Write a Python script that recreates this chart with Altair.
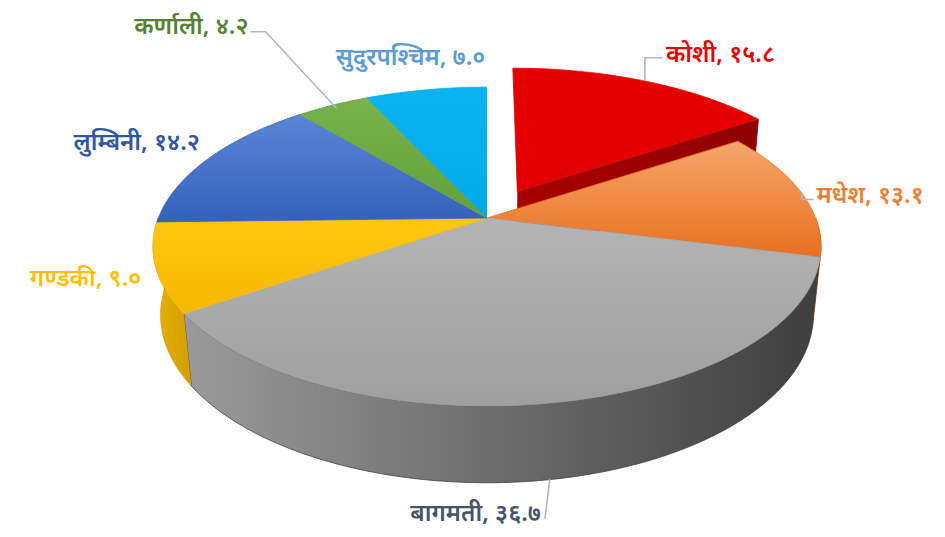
import numpy as np
import pandas as pd
import altair as alt

# ---- data ----
names = ["कोशी", "मधेश", "बागमती", "गण्डकी", "लुम्बिनी", "कर्णाली", "सुदुरपश्चिम"]
values = [15.8, 13.1, 36.7, 9.0, 14.2, 4.2, 7.0]

# ---- styles ----
top_light = ["#e60000", "#f4a66e", "#b4b4b4", "#ffc713", "#5b86d4", "#78b24e", "#0bb4f0"]
top_dark = ["#e10000", "#e8701e", "#9f9f9f", "#f6b800", "#3560bc", "#62a03c", "#00a9ea"]
wall_light = ["#a80000", "#c45c18", "#9a9a9a", "#e7b000", "#2f5597", "#4e7f30", "#0088bb"]
wall_dark = ["#8f0000", "#b24f10", "#3e3e3e", "#d29f00", "#2a4d8a", "#446f2a", "#0077a6"]
label_colors = ["#e60000", "#ed7d31", "#44546a", "#ffc000", "#2f55a4", "#548235", "#5b9bd5"]
explode = [0.2, 0, 0, 0, 0, 0, 0]
label_r = [1.36, 1.04, 1.0, 1.05, 1.04, 1.65, 1.31]
label_h = [0.045, -0.015, -0.35, -0.03, 0.05, 0.08, 0.0]
label_align = ["left", "left", "right", "right", "right", "right", "center"]
label_dx = [3, 3, -12, 2, 4, -2, 0]
leader_kind = ["v", "v", "s", None, None, "h", None]

F, DIST, ELEV = 1620.0, 4.93, np.radians(28)
CX, CY, H = 487.0, 218.0, 0.238
S, C = np.sin(ELEV), np.cos(ELEV)
DEV = str.maketrans("0123456789", "०१२३४५६७८९")


def proj(X, Y, Z):
    d = DIST + Z * C - Y * S
    return CX + F * X / d, CY - F * (Z * S + Y * C) / d


total = sum(values)
bounds = np.concatenate([[0], np.cumsum(values)]) / total * 2 * np.pi

XS = alt.Scale(domain=[8, 937], nice=False, zero=False)
YS = alt.Scale(domain=[8, 529], nice=False, zero=False, reverse=True)


def grad(a, b, x1=0, y1=0, x2=0, y2=1):
    return alt.LinearGradient(
        gradient="linear",
        stops=[alt.GradientStop(color=a, offset=0), alt.GradientStop(color=b, offset=1)],
        x1=x1, y1=y1, x2=x2, y2=y2)


def poly(xs, ys, fill, stroke):
    df = pd.DataFrame({"x": xs, "y": ys, "i": np.arange(len(xs))})
    return alt.Chart(df).mark_line(fill=fill, stroke=stroke, strokeWidth=0.8).encode(
        x=alt.X("x:Q", scale=XS, axis=None),
        y=alt.Y("y:Q", scale=YS, axis=None),
        order="i:Q")


walls, faces, tops = [], [], []
for k in range(len(values)):
    a1, a2 = bounds[k], bounds[k + 1]
    m = (a1 + a2) / 2
    ox, oz = explode[k] * np.sin(m), explode[k] * np.cos(m)
    # top surface
    th = np.linspace(a1, a2, max(3, int(np.degrees(a2 - a1) * 2)))
    px, py = proj(np.r_[ox, ox + np.sin(th)], 0, np.r_[oz, oz + np.cos(th)])
    tops.append(poly(px, py, grad(top_light[k], top_dark[k]), top_dark[k]))
    # front wall
    c1, c2 = max(a1, np.pi / 2), min(a2, 3 * np.pi / 2)
    if c2 > c1:
        th = np.linspace(c1, c2, max(3, int(np.degrees(c2 - c1) * 2)))
        tx, ty = proj(ox + np.sin(th), 0, oz + np.cos(th))
        bx, by = proj(ox + np.sin(th[::-1]), -H, oz + np.cos(th[::-1]))
        walls.append(poly(np.r_[tx, bx], np.r_[ty, by],
                          grad(wall_light[k], wall_dark[k], 0, 0, 1, 0), wall_dark[k]))
    # radial face of exploded slice
    if explode[k] > 0 and 0 < a2 < np.pi:
        X = np.array([ox, ox + np.sin(a2), ox + np.sin(a2), ox])
        Y = np.array([0, 0, -H, -H])
        Z = np.array([oz, oz + np.cos(a2), oz + np.cos(a2), oz])
        fx, fy = proj(X, Y, Z)
        faces.append(poly(fx, fy, grad(wall_light[k], wall_dark[k], 0, 0, 1, 0), wall_dark[k]))

# labels and leaders
lab_rows, lead_rows = [], []
for k in range(len(values)):
    m = (bounds[k] + bounds[k + 1]) / 2
    lx, ly = proj(label_r[k] * np.sin(m), label_h[k], label_r[k] * np.cos(m))
    lab_rows.append({"x": lx, "y": ly,
                     "text": f"{names[k]}, " + f"{values[k]:.1f}".translate(DEV),
                     "color": label_colors[k]})
    kind = leader_kind[k]
    if kind is None:
        continue
    R = 1 + explode[k]
    if kind == "s":
        rx, ry = proj(np.sin(m), -H, np.cos(m))
        pts = [(lx - 8, ly + 5), (rx - 4, ry)]
    elif kind == "v":
        rx, ry = proj(R * np.sin(m), 0, R * np.cos(m))
        pts = [(lx, ly + 3), (rx, ly + 3), (rx, ry)]
    else:
        rx, ry = proj(0.97 * np.sin(m), 0, 0.97 * np.cos(m))
        pts = [(lx, ly + 5), (lx + 15, ly + 5), (rx, ry)]
    for i, (x, y) in enumerate(pts):
        lead_rows.append({"lid": k, "i": i, "x": x, "y": y})

lab = pd.DataFrame(lab_rows)
lead = pd.DataFrame(lead_rows)

leaders = alt.Chart(lead).mark_line(stroke="#a9b7ca", strokeWidth=1.6).encode(
    x=alt.X("x:Q", scale=XS, axis=None),
    y=alt.Y("y:Q", scale=YS, axis=None),
    detail="lid:N", order="i:Q")

texts = []
for k in range(len(values)):
    texts.append(alt.Chart(lab.iloc[[k]]).mark_text(
        align=label_align[k], baseline="middle", dx=label_dx[k], fontSize=24, fontWeight=600,
        font="Noto Sans").encode(
        x=alt.X("x:Q", scale=XS, axis=None),
        y=alt.Y("y:Q", scale=YS, axis=None),
        text="text:N",
        color=alt.Color("color:N", scale=None)))

chart = alt.layer(*walls, *faces, *tops, leaders, *texts).properties(
    width=929, height=521, padding=0, autosize="none"
).configure_view(stroke=None)

chart.save("out.html", embed_options={"renderer": "svg", "actions": False})
